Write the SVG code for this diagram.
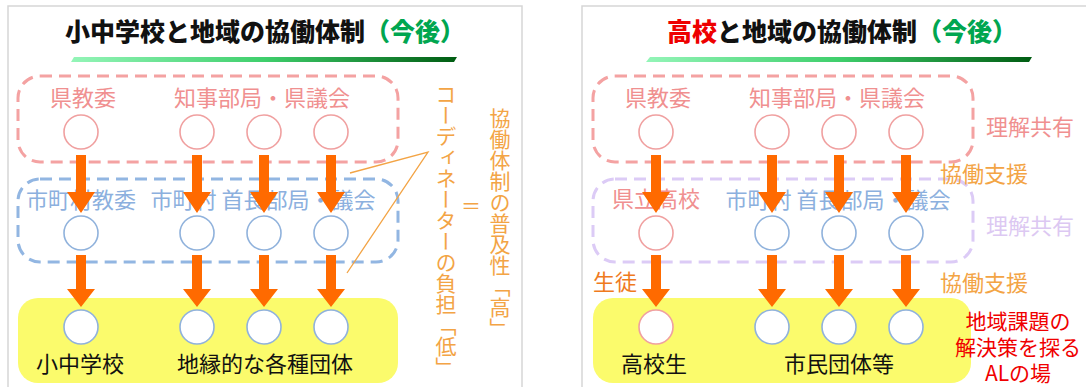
<svg xmlns="http://www.w3.org/2000/svg" width="1086" height="387" viewBox="0 0 1086 387">
<defs>
<linearGradient id="bar" x1="0" y1="0" x2="1" y2="0">
<stop offset="0" stop-color="#94f5b8"/>
<stop offset="0.5" stop-color="#3fcf6c"/>
<stop offset="1" stop-color="#005c12"/>
</linearGradient>
<style>
text{font-family:'Noto Sans CJK JP','Noto Sans',sans-serif;}
.title{font-size:25px;font-weight:900;fill:#111;text-anchor:middle;}
.green{fill:#00a650;}
.red{fill:#ee0000;}
.lbl{font-size:22px;text-anchor:middle;}
.pinkT{fill:#f09090;}
.blueT{fill:#8cb0de;}
.lavT{fill:#dcc8f2;}
.orT{fill:#f3a445;}
.orD{fill:#ef7a1e;}
.blk{fill:#111;}
.redT{fill:#f00000;font-size:21px;}
.panel{fill:#fff;stroke:#d6d6d6;stroke-width:1.5;}
.dash{fill:none;stroke-width:3;stroke-dasharray:12 7;}
.dPink{stroke:#f4a2a2;}
.dBlue{stroke:#92b6e2;}
.dLav{stroke:#dccbf6;}
.yel{fill:#fbfb6c;}
.cP{fill:#fff;stroke:#f0a0a0;stroke-width:1.6;}
.cB{fill:#fff;stroke:#90b2dc;stroke-width:1.6;}
.arr{fill:#ff6a00;}
.lead{fill:none;stroke:#f3a445;stroke-width:1.3;}
.vert{font-size:21px;writing-mode:vertical-rl;fill:#f3a445;}
</style>
</defs>
<rect width="1086" height="387" fill="#fff"/>

<!-- Left panel -->
<g id="panel-left">
<rect class="panel" x="8" y="6" width="514" height="400"/>
<text class="title" x="265" y="41">小中学校と地域の協働体制<tspan class="green">（今後）</tspan></text>
<polygon points="74,57 457,57 454,62 71,62" fill="url(#bar)"/>
</g>

<g id="box-pref-left">
<rect class="dash dPink" x="18" y="76" width="380" height="86" rx="22"/>
<text class="lbl pinkT" x="83" y="106">県教委</text>
<text class="lbl pinkT" x="262" y="106">知事部局・県議会</text>
</g>
<g id="box-city-left">
<rect class="dash dBlue" x="18" y="179" width="380" height="83" rx="22"/>
<text class="lbl blueT" x="81" y="208">市町村教委</text>
<text class="lbl blueT" x="263" y="208">市町村 首長部局・議会</text>
</g>
<g id="box-local-left">
<rect class="yel" x="18" y="298" width="380" height="85" rx="20"/>
<text class="lbl blk" x="80" y="372">小中学校</text>
<text class="lbl blk" x="265" y="372">地縁的な各種団体</text>
</g>

<g id="nodes-left">
<circle id="L1a" class="cP" cx="81" cy="132" r="17"/>
<circle id="L1b" class="cP" cx="197" cy="132" r="17"/>
<circle id="L1c" class="cP" cx="264" cy="132" r="17"/>
<circle id="L1d" class="cP" cx="331" cy="132" r="17"/>
<circle id="L2a" class="cB" cx="81" cy="233" r="17"/>
<circle id="L2b" class="cB" cx="197" cy="233" r="17"/>
<circle id="L2c" class="cB" cx="264" cy="233" r="17"/>
<circle id="L2d" class="cB" cx="331" cy="233" r="17"/>
<circle id="L3a" class="cB" cx="81" cy="327" r="17"/>
<circle id="L3b" class="cB" cx="197" cy="327" r="17"/>
<circle id="L3c" class="cB" cx="264" cy="327" r="17"/>
<circle id="L3d" class="cB" cx="331" cy="327" r="17"/>
</g>

<g id="note-left">
<text class="vert" x="446" y="84">コーディネーターの負担「低」</text>
<text x="471" y="214" font-size="20" text-anchor="middle" fill="#f3a445">＝</text>
<text class="vert" x="500" y="108">協働体制の普及性「高」</text>
</g>

<!-- Right panel -->
<g id="panel-right">
<rect class="panel" x="582" y="6" width="600" height="400"/>
<text class="title" x="842" y="41"><tspan class="red">高校</tspan>と地域の協働体制<tspan class="green">（今後）</tspan></text>
<polygon points="650,57 1032,57 1029,62 646,62" fill="url(#bar)"/>
</g>

<g id="box-pref-right">
<rect class="dash dPink" x="593" y="76" width="380" height="86" rx="22"/>
<text class="lbl pinkT" x="658" y="106">県教委</text>
<text class="lbl pinkT" x="837" y="106">知事部局・県議会</text>
</g>
<g id="box-city-right">
<rect class="dash dLav" x="593" y="179" width="380" height="83" rx="22"/>
<text class="lbl pinkT" x="656" y="207">県立高校</text>
<text class="lbl blueT" x="838" y="208">市町村 首長部局・議会</text>
</g>
<g id="box-local-right">
<rect class="yel" x="593" y="298" width="378" height="85" rx="20"/>
<text class="lbl blk" x="654" y="372">高校生</text>
<text class="lbl blk" x="839" y="372">市民団体等</text>
</g>

<g id="nodes-right">
<circle id="R1a" class="cP" cx="656" cy="132" r="17"/>
<circle id="R1b" class="cP" cx="772" cy="132" r="17"/>
<circle id="R1c" class="cP" cx="839" cy="132" r="17"/>
<circle id="R1d" class="cP" cx="906" cy="132" r="17"/>
<circle id="R2a" class="cP" cx="656" cy="233" r="17"/>
<circle id="R2b" class="cB" cx="772" cy="233" r="17"/>
<circle id="R2c" class="cB" cx="839" cy="233" r="17"/>
<circle id="R2d" class="cB" cx="906" cy="233" r="17"/>
<circle id="R3a" class="cP" cx="656" cy="327" r="17"/>
<circle id="R3b" class="cB" cx="772" cy="327" r="17"/>
<circle id="R3c" class="cB" cx="839" cy="327" r="17"/>
<circle id="R3d" class="cB" cx="906" cy="327" r="17"/>
</g>

<g id="notes-right">
<text class="lbl pinkT" x="1030" y="135">理解共有</text>
<text class="lbl orT" x="984" y="182">協働支援</text>
<text class="lbl lavT" x="1030" y="234">理解共有</text>
<text class="lbl orT" x="984" y="291">協働支援</text>
<text class="lbl orD" x="615" y="290">生徒</text>
<text class="lbl redT" x="1018" y="329">地域課題の<tspan x="1018" dy="26">解決策を探る</tspan><tspan x="1018" dy="26">ALの場</tspan></text>
</g>

<!-- Connectors -->
<g id="connectors">
<polyline class="lead" points="350,173 428,152 347,273"/>
<g class="arr">
<polygon points="76,155 86,155 86,192 95,192 81,213 67,192 76,192"/>
<polygon points="192,155 202,155 202,192 211,192 197,213 183,192 192,192"/>
<polygon points="259,155 269,155 269,192 278,192 264,213 250,192 259,192"/>
<polygon points="326,155 336,155 336,192 345,192 331,213 317,192 326,192"/>
<polygon points="76,255 86,255 86,289 95,289 81,307 67,289 76,289"/>
<polygon points="192,255 202,255 202,289 211,289 197,307 183,289 192,289"/>
<polygon points="259,255 269,255 269,289 278,289 264,307 250,289 259,289"/>
<polygon points="326,255 336,255 336,289 345,289 331,307 317,289 326,289"/>
<polygon points="651,155 661,155 661,192 670,192 656,213 642,192 651,192"/>
<polygon points="767,155 777,155 777,192 786,192 772,213 758,192 767,192"/>
<polygon points="834,155 844,155 844,192 853,192 839,213 825,192 834,192"/>
<polygon points="901,155 911,155 911,192 920,192 906,213 892,192 901,192"/>
<polygon points="651,255 661,255 661,289 670,289 656,307 642,289 651,289"/>
<polygon points="767,255 777,255 777,289 786,289 772,307 758,289 767,289"/>
<polygon points="834,255 844,255 844,289 853,289 839,307 825,289 834,289"/>
<polygon points="901,255 911,255 911,289 920,289 906,307 892,289 901,289"/>
</g>
</g>
</svg>
